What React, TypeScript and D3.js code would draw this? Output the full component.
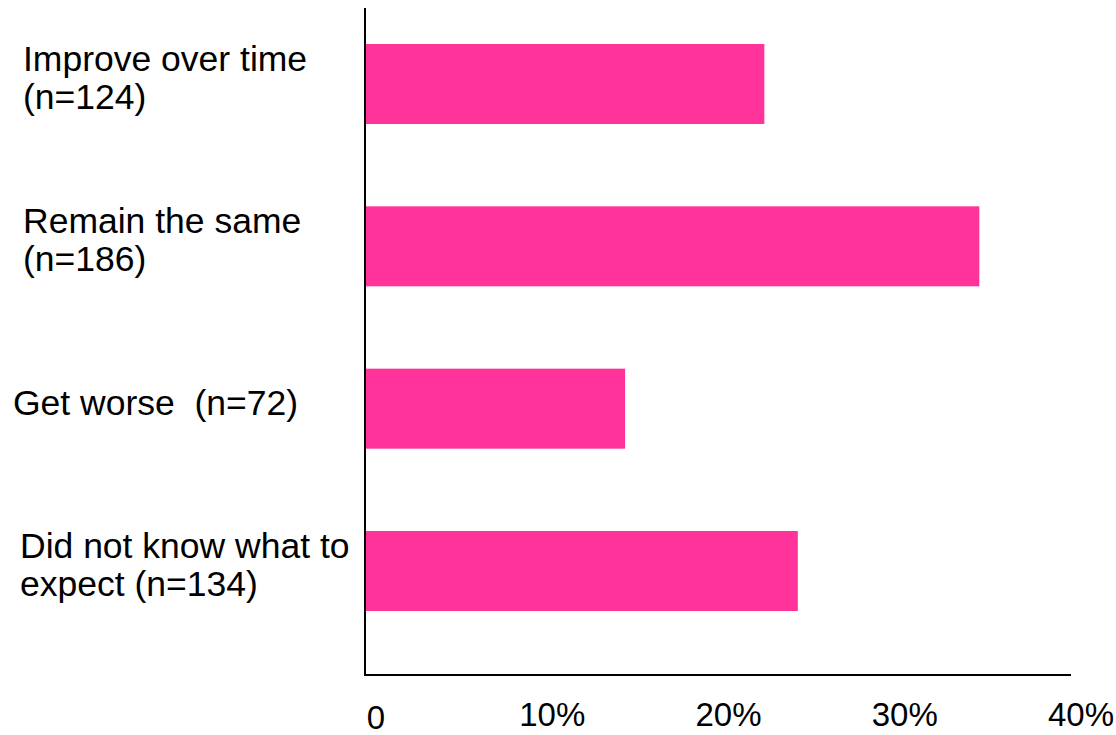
import React from "react";
import * as d3 from "d3";

const categories = ["improve", "same", "worse", "unknown"];
const categoryLines: string[][] = [
  ["Improve over time", "(n=124)"],
  ["Remain the same", "(n=186)"],
  ["Get worse  (n=72)"],
  ["Did not know what to", "expect (n=134)"],
];
const values = [22.6, 34.8, 14.7, 24.5];
const tickValues = [0, 10, 20, 30, 40];
const tickLabels = ["0", "10%", "20%", "30%", "40%"];

const W = 1116;
const H = 735;
const FONT = "'Liberation Sans', Arial, sans-serif";
const BAR = "#FF3399";

export default function App() {
  const x = d3.scaleLinear().domain([0, 40]).range([366, 1071]);
  const y = d3.scalePoint<string>().domain(categories).range([84, 571]);
  const barH = 80;
  const lineH = 38;
  const axisY = 675;

  return (
    <svg
      width={W}
      height={H}
      style={{ position: "absolute", left: 0, top: 0, background: "#fff" }}
      fontFamily={FONT}
    >
      <rect x={0} y={0} width={W} height={H} fill="#fff" />
      {categories.map((c, i) => (
        <rect
          key={c}
          x={x(0)}
          y={(y(c) as number) - barH / 2}
          width={x(values[i]) - x(0)}
          height={barH}
          fill={BAR}
        />
      ))}
      {categories.map((c, i) => {
        const lines = categoryLines[i];
        const cy = y(c) as number;
        const lx = i === 2 ? 13 : i === 3 ? 20 : 23;
        return (
          <text
            key={"l" + c}
            x={lx}
            fontSize={35.5}
            fill="#000"
            style={{ whiteSpace: "pre" }}
            xmlSpace="preserve"
          >
            {lines.map((ln, j) => (
              <tspan
                key={j}
                x={lx}
                y={cy + 6 + (j - (lines.length - 1) / 2) * lineH}
              >
                {ln}
              </tspan>
            ))}
          </text>
        );
      })}
      <line x1={x(0) - 1} x2={x(0) - 1} y1={8} y2={axisY + 1} stroke="#000" strokeWidth={2} />
      <line x1={x(0) - 2} x2={x(40)} y1={axisY} y2={axisY} stroke="#000" strokeWidth={2} />
      {tickValues.map((v, i) => (
        <text
          key={"t" + v}
          x={x(v) + 10}
          y={v === 0 ? 729 : 726}
          textAnchor="middle"
          fontSize={33}
          fill="#000"
        >
          {tickLabels[i]}
        </text>
      ))}
    </svg>
  );
}
